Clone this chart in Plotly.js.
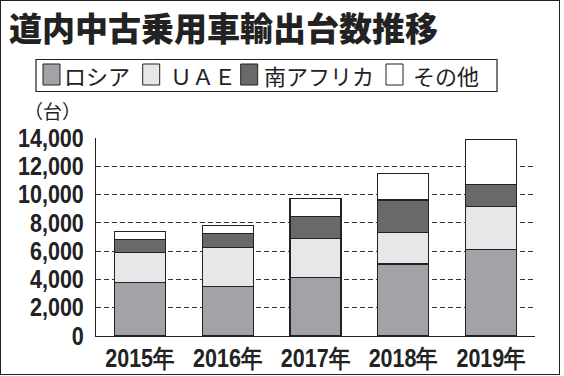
<!DOCTYPE html>
<html><head><meta charset="utf-8">
<script src="https://cdn.plot.ly/plotly-3.0.1.min.js"></script>
<style>
html,body{margin:0;padding:0;background:#fff;}
#wrap{position:relative;width:564px;height:376px;}
#chart{width:564px;height:376px;}
#frame{position:absolute;left:0;top:0;width:558px;height:373px;border:1.5px solid #222;pointer-events:none;}
</style></head>
<body><div id="wrap"><div id="chart"></div><div id="frame"></div></div>
<script>
// data
const years = ['2015年','2016年','2017年','2018年','2019年'];
const seriesNames = ['ロシア','ＵＡＥ','南アフリカ','その他'];
const russia = [3800, 3520, 4160, 5090, 6130];
const uae = [2100, 2750, 2750, 2240, 3030];
const southAfrica = [950, 990, 1550, 2280, 1550];
const others = [560, 560, 1270, 1880, 3170];
const yTickVals = [0,2000,4000,6000,8000,10000,12000,14000];

const colors = ['#a3a3a7','#e7e7e9','#69696b','#ffffff'];
const series = [russia, uae, southAfrica, others];

const W=564,H=376,M={l:96,r:29,t:138,b:40};
const pw=W-M.l-M.r, ph=H-M.t-M.b;
const px=x=>(x-M.l)/pw, py=y=>(H-M.b-y)/ph;

const numFont="'Liberation Sans',Arial,sans-serif";
const jpFont="'Noto Sans CJK JP','Noto Sans',sans-serif";

const traces = series.map((vals,i)=>({
  type:'bar', x:years, y:vals, name:seriesNames[i],
  marker:{color:colors[i], line:{color:'#222', width:1.2}},
  showlegend:false, hoverinfo:'skip'
}));

const shapes=[{type:'rect',xref:'paper',yref:'paper',x0:px(36),x1:px(497),y0:py(59.5),y1:py(91.5),
  line:{color:'#222',width:1.2},fillcolor:'rgba(0,0,0,0)'}];
const annotations=[{xref:'paper',yref:'paper',x:px(22),y:py(111),xanchor:'left',yanchor:'middle',
  text:'（台）',showarrow:false,font:{family:jpFont,size:19,color:'#222'}}];
const swX=[43,142.7,240.7,386], txX=[62,168,262,411];
seriesNames.forEach((n,i)=>{
  shapes.push({type:'rect',xref:'paper',yref:'paper',x0:px(swX[i]),x1:px(swX[i]+17),y0:py(64),y1:py(85),
    line:{color:'#222',width:1},fillcolor:colors[i]});
  annotations.push({xref:'paper',yref:'paper',x:px(txX[i]),y:py(75),xanchor:'left',yanchor:'middle',
    text:n,showarrow:false,font:{family:jpFont,size:22,color:'#222'}});
});

const layout={
  width:W,height:H,margin:M,paper_bgcolor:'#fff',plot_bgcolor:'#fff',
  barmode:'stack',bargap:0.42,
  title:{text:'道内中古乗用車輸出台数推移',x:9/W,xanchor:'left',xref:'container',
    y:1-29/H,yanchor:'middle',yref:'container',
    font:{family:jpFont,size:33,weight:900,color:'#222'}},
  xaxis:{showline:true,linecolor:'#222',linewidth:1.2,ticks:'',showgrid:false,
    tickfont:{family:numFont,size:25,weight:'bold',color:'#222'},fixedrange:true},
  yaxis:{range:[0,14000],tickvals:yTickVals,tickformat:',d',showline:true,linecolor:'#222',linewidth:1.2,
    ticks:'',ticklabelstandoff:6,showgrid:true,gridcolor:'#333',gridwidth:1,griddash:'5px,3px',zeroline:false,
    tickfont:{family:numFont,size:25,weight:'bold',color:'#222'},fixedrange:true},
  shapes:shapes,annotations:annotations,showlegend:false
};
Plotly.newPlot('chart',traces,layout,{staticPlot:true}).then(gd=>{
  // condense tick labels horizontally (the original uses a condensed gothic face)
  gd.querySelectorAll('.xtick text, .ytick text').forEach(t=>{
    const len=t.getComputedTextLength();
    t.setAttribute('textLength',(len*0.86).toFixed(1));
    t.setAttribute('lengthAdjust','spacingAndGlyphs');
  });
});
</script></body></html>
